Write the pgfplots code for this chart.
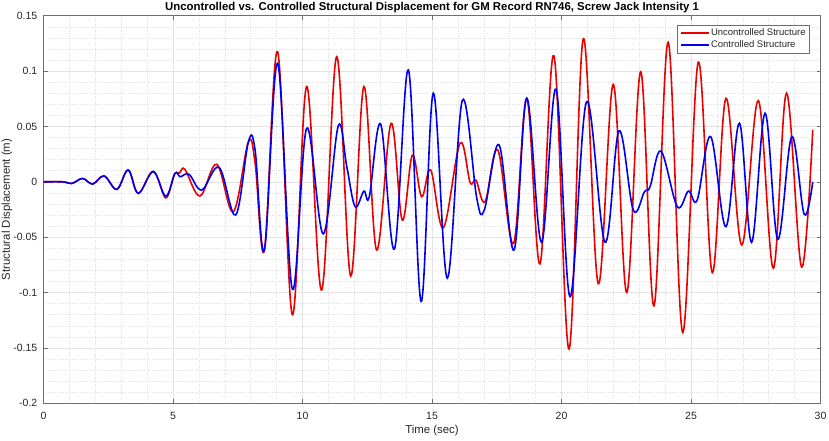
\documentclass[border=0pt]{standalone}
\usepackage{fontspec}
\setmainfont{Liberation Sans}
\usepackage{pgfplots}
\pgfplotsset{compat=1.18}
\definecolor{axgray}{RGB}{110,110,110}
\definecolor{txtgray}{RGB}{38,38,38}
\definecolor{mred}{RGB}{235,0,0}
\definecolor{mblue}{RGB}{0,0,240}

\begin{document}
\begin{tikzpicture}
\begin{axis}[
  at={(0,0)}, anchor=south west,
  width=777pt, height=387.6pt, scale only axis,
  xmin=0, xmax=30, ymin=-0.2, ymax=0.15,
  xtick={0,5,10,15,20,25,30},
  xticklabels={0,5,10,15,20,25,30},
  ytick={-0.2,-0.15,-0.1,-0.05,0,0.05,0.1,0.15},
  yticklabels={-0.2,-0.15,-0.1,-0.05,0,0.05,0.1,0.15},
  minor x tick num=4, minor y tick num=4,
  grid=both,
  major grid style={gray!22, line width=0.5pt},
  minor grid style={gray!25, dotted, line width=0.5pt},
  minor tick length=0pt, major tick length=4pt,
  tick align=inside,
  axis line style={axgray, line width=0.6pt},
  every tick/.style={axgray, line width=0.6pt},
  tick label style={font=\fontsize{10.5}{12}\selectfont, text=txtgray},
  yticklabel style={anchor=east, inner sep=0pt, xshift=-6pt},
  xticklabel style={anchor=north, inner sep=0pt, yshift=-8.4pt},
  title={\bfseries Uncontrolled vs. Controlled Structural Displacement for GM Record RN746, Screw Jack Intensity 1},
  every axis title/.style={at={(rel axis cs:0.5,1)}, anchor=base, yshift=5.4pt, inner sep=0pt, font=\fontsize{11.4}{13}\selectfont, text=black},
  xlabel={Time (sec)},
  every axis x label/.style={at={(rel axis cs:0.5,0)}, anchor=base, yshift=-30.5pt, inner sep=0pt, font=\fontsize{11.4}{13}\selectfont, text=txtgray},
  ylabel={Structural Displacement (m)},
  every axis y label/.style={at={(rel axis cs:0,0.5)}, xshift=-36.5pt, rotate=90, anchor=center, inner sep=0pt, font=\fontsize{11.4}{13}\selectfont, text=txtgray},
  legend style={at={(rel axis cs:1,1)}, anchor=north east, xshift=-10.7pt, yshift=-9.3pt,
    font=\fontsize{9.5}{11}\selectfont, text=txtgray, draw=axgray, line width=0.5pt,
    inner xsep=3pt, inner ysep=1.8pt, row sep=0pt,
    nodes={inner sep=1pt, text height=7.5pt, text depth=2.5pt, anchor=west}},
  legend cell align=left,
  legend image code/.code={\draw[#1, line width=1.6pt] (0pt,0pt) -- (28pt,0pt);},
]
\addplot[mred, line width=1.6pt, smooth, tension=0.6] coordinates {
(0,0) (0.75,0) (1.09,-0.0015) (1.51,0.003) (1.90,-0.002) (2.34,0.0053)
(2.83,-0.0068) (3.27,0.0107) (3.66,-0.0104) (4.24,0.0095) (4.72,-0.0145)
(5.05,0.0065) (5.25,0.008) (5.46,0.0113) (6.04,-0.0128) (6.69,0.0158)
(7.33,-0.027) (7.91,0.036) (8.17,0.017) (8.53,-0.0615) (9.04,0.1175)
(9.61,-0.120) (10.16,0.086) (10.74,-0.0977) (11.32,0.113) (11.86,-0.085)
(12.37,0.086) (12.86,-0.0615) (13.42,0.0528) (13.85,-0.0345) (14.24,0.024)
(14.60,-0.0134) (14.95,0.0107) (15.44,-0.0414) (16.08,0.0348) (16.47,-0.0005)
(16.70,0.0015) (17.05,-0.018) (17.54,0.0288) (18.15,-0.0555) (18.66,0.0754)
(19.17,-0.074) (19.71,0.1136) (20.29,-0.151) (20.84,0.129) (21.42,-0.092)
(22.0,0.088) (22.52,-0.100) (23.06,0.0994) (23.57,-0.112) (24.12,0.126)
(24.68,-0.136) (25.28,0.108) (25.82,-0.082) (26.35,0.0754) (26.96,-0.057)
(27.60,0.0733) (28.18,-0.078) (28.69,0.080) (29.27,-0.077) (29.70,0.0468)
};
\addlegendentry{Uncontrolled Structure}
\addplot[mblue, line width=1.6pt, smooth, tension=0.6] coordinates {
(0,0) (0.75,0) (1.09,-0.0015) (1.51,0.003) (1.90,-0.002) (2.34,0.0053)
(2.83,-0.0068) (3.27,0.0107) (3.66,-0.0104) (4.24,0.0092) (4.72,-0.013)
(5.08,0.0077) (5.28,0.0046) (5.62,0.0068) (6.11,-0.0074) (6.78,0.013)
(7.42,-0.030) (7.91,0.036) (8.17,0.0286) (8.53,-0.0615) (9.04,0.107)
(9.61,-0.097) (10.16,0.0483) (10.80,-0.047) (11.38,0.0504) (11.71,0.0137)
(12.03,-0.0224) (12.37,-0.0084) (12.58,-0.0134) (13.02,0.052) (13.55,-0.0606)
(14.09,0.101) (14.58,-0.108) (15.05,0.080) (15.59,-0.087) (16.17,0.0733)
(16.73,-0.015) (17.02,-0.0254) (17.59,0.0333) (18.17,-0.0615) (18.66,0.0754)
(19.23,-0.0546) (19.79,0.0836) (20.33,-0.1037) (20.97,0.0724) (21.68,-0.0546)
(22.22,0.046) (22.77,-0.0254) (23.2,-0.009) (23.42,-0.0044) (23.84,0.0278)
(24.47,-0.0224) (24.90,-0.0084) (25.24,-0.0164) (25.76,0.0408) (26.35,-0.0405)
(26.87,0.0529) (27.34,-0.0546) (27.86,0.0619) (28.35,-0.0519) (28.89,0.0408)
(29.37,-0.0293) (29.70,0.0)
};
\addlegendentry{Controlled Structure}
\end{axis}
\pgfresetboundingbox
\useasboundingbox (-43.5pt,-36.7pt) rectangle (785.5pt,403.3pt);
\end{tikzpicture}
\end{document}
